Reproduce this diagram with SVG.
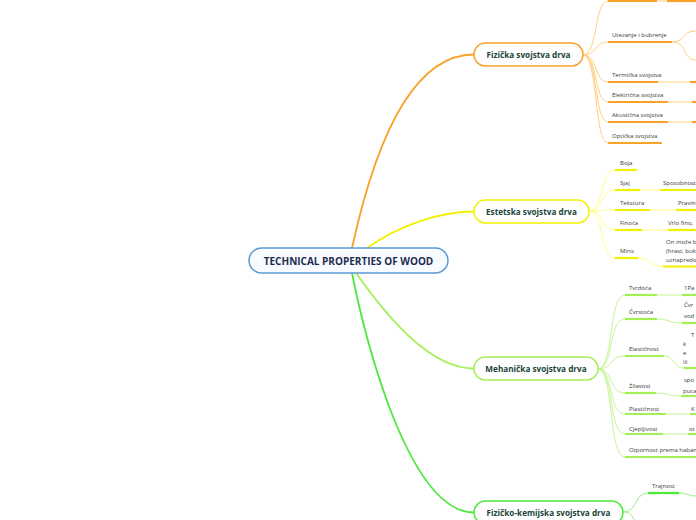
<svg xmlns="http://www.w3.org/2000/svg" width="696" height="520" viewBox="0 0 696 520">
<style>
text{font-family:"Open Sans","Noto Sans","Liberation Sans",sans-serif}
.root{fill:#f8fbff;stroke:#5b9bd5;stroke-width:1.5}
.rt{font-size:10px;font-weight:bold;fill:#1c2b4f;text-anchor:middle}
.nt{font-size:8.2px;font-weight:bold;fill:#1b4536;text-anchor:middle}
.ct{font-size:6px;fill:#3a3a3a}
.node{fill:#fff;stroke-width:1.5}
.o{stroke:#f8a22a}.y{stroke:#f2f200}.g{stroke:#a3ef55}.b{stroke:#4ce83a}
path{fill:none}
.main{stroke-width:1.8}
.fan{stroke-width:1}
.ul{stroke-width:2.2}
.lo{stroke:#ffcf80}.ly{stroke:#ffff88}.lg{stroke:#c6f598}.lb{stroke:#96f085}
</style>

<g id="connectors">
  <path class="main o" d="M352,248 C380,120 420,54.5 474,54.5"/>
  <path class="main y" d="M367,248 C400,225 440,211.5 474,211.5"/>
  <path class="main g" d="M356,273 C388,318 430,368.5 474,368.5"/>
  <path class="main b" d="M352,273 C366,345 410,512.5 474,512.5"/>

  <g>
    <path class="fan lo" d="M583,55 C598,55 594,1 608,1"/>
    <path class="fan lo" d="M583,55 C598,55 594,42 608,42"/>
    <path class="fan lo" d="M583,55 C598,55 594,82 608,82"/>
    <path class="fan lo" d="M583,55 C598,55 594,102 608,102"/>
    <path class="fan lo" d="M583,55 C598,55 594,122 608,122"/>
    <path class="fan lo" d="M583,55 C598,55 594,143 608,143"/>
    <path class="ul o" d="M608,1 H657"/><path class="fan lo" d="M657,1 H667"/><path class="ul o" d="M667,1 H696"/>
    <path class="ul o" d="M608,42 H672"/>
    <path class="fan lo" d="M672,42 C686,42 681,31 696,31"/>
    <path class="fan lo" d="M672,42 C688,42 682,60 696,60"/>
    <path class="ul o" d="M608,82 H658"/><path class="fan lo" d="M658,82 H690"/><path class="ul o" d="M690,82 H696"/>
    <path class="ul o" d="M608,102 H668"/><path class="fan lo" d="M668,102 H692"/><path class="ul o" d="M692,102 H696"/>
    <path class="ul o" d="M608,122 H668"/><path class="fan lo" d="M668,122 H692"/><path class="ul o" d="M692,122 H696"/>
    <path class="ul o" d="M608,143 H662"/>
  </g>

  <g>
    <path class="fan ly" d="M589,211 C604,211 600,170 615,170"/>
    <path class="fan ly" d="M589,211 C604,211 600,190 615,190"/>
    <path class="fan ly" d="M589,211 C604,211 600,210 615,210"/>
    <path class="fan ly" d="M589,211 C604,211 600,230 615,230"/>
    <path class="fan ly" d="M589,211 C604,211 600,258 615,258"/>
    <path class="ul y" d="M615,170 H637"/>
    <path class="ul y" d="M615,190 H640"/><path class="fan ly" d="M640,190 H660"/><path class="ul y" d="M660,190 H696"/>
    <path class="ul y" d="M615,210 H650"/><path class="fan ly" d="M650,210 H676"/><path class="ul y" d="M676,210 H696"/>
    <path class="ul y" d="M615,230 H642"/><path class="fan ly" d="M642,230 H668"/><path class="ul y" d="M668,230 H696"/>
    <path class="ul y" d="M615,258 H638"/><path class="fan ly" d="M638,258 C652,258 650,266.5 663,266.5"/><path class="ul y" d="M663,266.5 H696"/>
  </g>

  <g>
    <path class="fan lg" d="M598,369 C614,369 608,295 625,295"/>
    <path class="fan lg" d="M598,369 C614,369 608,319 625,319"/>
    <path class="fan lg" d="M598,369 C614,369 608,356 625,356"/>
    <path class="fan lg" d="M598,369 C614,369 608,393 625,393"/>
    <path class="fan lg" d="M598,369 C614,369 608,414 625,414"/>
    <path class="fan lg" d="M598,369 C614,369 608,434 625,434"/>
    <path class="fan lg" d="M598,369 C614,369 608,457 625,457"/>
    <path class="ul g" d="M625,295 H657"/><path class="fan lg" d="M657,295 H682"/><path class="ul g" d="M682,295 H696"/>
    <path class="ul g" d="M625,319 H657"/><path class="fan lg" d="M657,319 C670,319 668,323 682,323"/><path class="ul g" d="M682,323 H696"/>
    <path class="ul g" d="M625,356 H664"/><path class="fan lg" d="M664,356 C676,356 672,368 684,368"/><path class="ul g" d="M684,368 H696"/>
    <path class="ul g" d="M625,393 H656"/><path class="fan lg" d="M656,393 C668,393 668,396 681,396"/><path class="ul g" d="M681,396 H696"/>
    <path class="ul g" d="M625,414 H666"/><path class="fan lg" d="M666,414 H690"/><path class="ul g" d="M690,414 H696"/>
    <path class="ul g" d="M625,434 H663"/><path class="fan lg" d="M663,434 H688"/><path class="ul g" d="M688,434 H696"/>
    <path class="ul g" d="M625,457 H696"/>
  </g>

  <g>
    <path class="fan lb" d="M623,512 C638,512 634,493 648,493"/>
    <path class="fan lb" d="M623,512 C630,512 632,515 635,522"/>
    <path class="ul b" d="M648,493 H679"/>
    <path class="fan lb" d="M679,493 C688,493 688,496 696,496"/>
  </g>
</g>

<g id="root">
  <rect class="root" x="249" y="248" width="199" height="25" rx="12.5"/>
  <text class="rt" x="348.5" y="264.5">TECHNICAL PROPERTIES OF WOOD</text>
</g>

<g id="fizicka">
  <rect class="node o" x="474" y="43" width="109" height="23" rx="11.5"/>
  <text class="nt" x="528.5" y="57.8">Fizička svojstva drva</text>
</g>
<g id="estetska">
  <rect class="node y" x="474" y="200" width="115" height="23" rx="11.5"/>
  <text class="nt" x="531.5" y="214.8">Estetska svojstva drva</text>
</g>
<g id="mehanicka">
  <rect class="node g" x="474" y="357" width="124" height="23" rx="11.5"/>
  <text class="nt" x="536" y="371.8">Mehanička svojstva drva</text>
</g>
<g id="fizicko-kemijska">
  <rect class="node b" x="474" y="501" width="149" height="23" rx="11.5"/>
  <text class="nt" x="548.5" y="515.8">Fizičko-kemijska svojstva drva</text>
</g>

<g id="fizicka-children">
  <text class="ct" x="612" y="37">Utezanje i bubrenje</text>
  <text class="ct" x="612" y="77">Termička svojstva</text>
  <text class="ct" x="612" y="97">Električna svojstva</text>
  <text class="ct" x="612" y="117">Akustična svojstva</text>
  <text class="ct" x="612" y="137.5">Optička svojstva</text>
</g>

<g id="estetska-children">
  <text class="ct" x="620" y="165">Boja</text>
  <text class="ct" x="620" y="185">Sjaj</text>
  <text class="ct" x="663" y="185">Sposobnost</text>
  <text class="ct" x="620" y="205">Tekstura</text>
  <text class="ct" x="678" y="205">Pravin</text>
  <text class="ct" x="620" y="225">Finoća</text>
  <text class="ct" x="668" y="225">Vrlo fino,</text>
  <text class="ct" x="620" y="253">Miris</text>
  <text class="ct" x="666" y="244">On može b</text>
  <text class="ct" x="666" y="253">(hrast, buk</text>
  <text class="ct" x="666" y="262">uznapredo</text>
</g>

<g id="mehanicka-children">
  <text class="ct" x="629" y="290">Tvrdoća</text>
  <text class="ct" x="684" y="290">1Pa</text>
  <text class="ct" x="629" y="314">Čvrstoća</text>
  <text class="ct" x="684" y="307">Čvr</text>
  <text class="ct" x="684" y="318">vod</text>
  <text class="ct" x="629" y="351">Elastičnost</text>
  <text class="ct" x="691" y="337">T</text>
  <text class="ct" x="683" y="346">k</text>
  <text class="ct" x="683" y="355">e</text>
  <text class="ct" x="683" y="364">ili</text>
  <text class="ct" x="629" y="388">Žilavost</text>
  <text class="ct" x="684" y="382">spo</text>
  <text class="ct" x="683" y="393">puca</text>
  <text class="ct" x="629" y="411">Plastičnost</text>
  <text class="ct" x="691" y="411">K</text>
  <text class="ct" x="629" y="431">Cjepljivost</text>
  <text class="ct" x="689" y="431">ot</text>
  <text class="ct" x="629" y="452">Otpornost prema habanj</text>
</g>

<g id="fizicko-kemijska-children">
  <text class="ct" x="652" y="488">Trajnost</text>
</g>
</svg>
